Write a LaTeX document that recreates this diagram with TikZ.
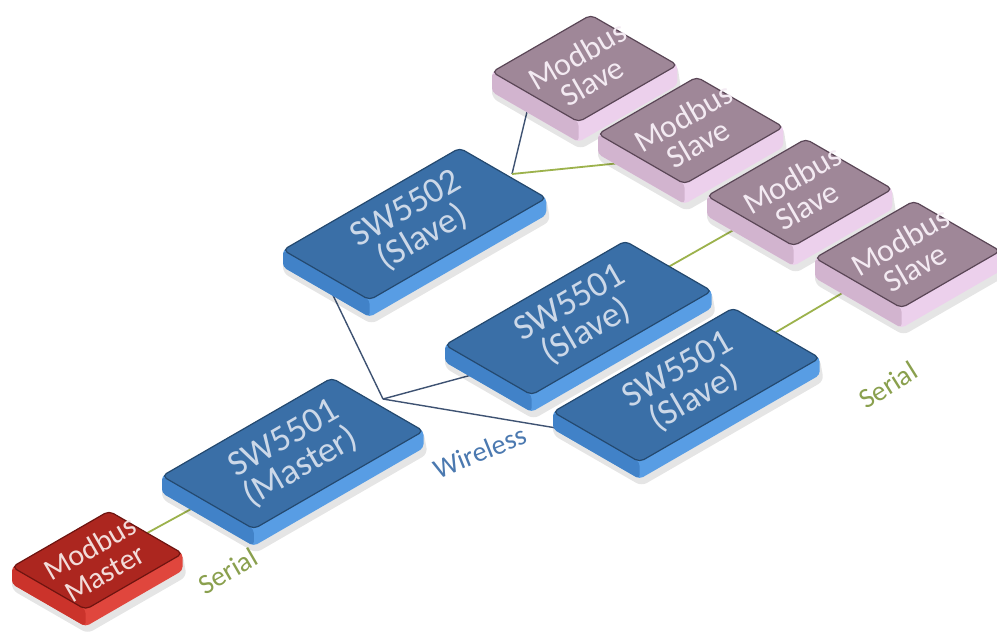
\documentclass[tikz,border=0pt]{standalone}
\usepackage{fontspec}
\setmainfont{Carlito}
\usetikzlibrary{calc,backgrounds}

\definecolor{bluetop}{HTML}{3A6FA7}
\definecolor{blueleft}{HTML}{4182C8}
\definecolor{blueright}{HTML}{589DE4}
\definecolor{blueedge}{HTML}{24496F}
\definecolor{bluetext}{HTML}{CCD8E8}
\definecolor{redtop}{HTML}{AC261F}
\definecolor{redleft}{HTML}{CB332B}
\definecolor{redright}{HTML}{E0463D}
\definecolor{rededge}{HTML}{6E1410}
\definecolor{redtext}{HTML}{F2DCDA}
\definecolor{mauvetop}{HTML}{9F8798}
\definecolor{mauveleft}{HTML}{D2B4CF}
\definecolor{mauveright}{HTML}{ECD0EC}
\definecolor{mauveedge}{HTML}{5A4656}
\definecolor{mauvetext}{HTML}{F3EAF2}
\definecolor{wirecol}{HTML}{3E5272}
\definecolor{serialcol}{HTML}{9CB24C}
\definecolor{seriallabel}{HTML}{8AA04E}
\definecolor{wirelabel}{HTML}{4B79B0}

%% iso box: name, corner x, corner y, long side, short side, depth, colour set, text
\newcommand{\isobox}[8]{%
  \pgfmathsetmacro\boxax{0.866*#4}\pgfmathsetmacro\boxay{-0.5*#4}%
  \pgfmathsetmacro\boxbx{0.866*#5}\pgfmathsetmacro\boxby{0.5*#5}%
  \coordinate (#1-L) at (#2,#3);
  \coordinate (#1-T) at ($(#1-L)+(\boxax,\boxay)$);
  \coordinate (#1-B) at ($(#1-L)+(\boxbx,\boxby)$);
  \coordinate (#1-R) at ($(#1-T)+(\boxbx,\boxby)$);
  %% soft shadow
  \fill[black,opacity=0.10,rounded corners=6] ($(#1-L)+(0,#6+6)$) -- ($(#1-B)+(2,#6+7)$)
    -- ($(#1-R)+(4,#6+6)$) -- (#1-R) -- (#1-L) -- cycle;
  %% sides
  \fill[#7right,rounded corners=4] (#1-L) -- (#1-T) -- (#1-R) -- ($(#1-R)+(0,#6)$)
    -- ($(#1-B)+(0,#6)$) -- ($(#1-L)+(0,#6)$) -- cycle;
  \fill[#7left,rounded corners=4] (#1-L) -- (#1-B) -- ($(#1-B)+(0,#6)$)
    -- ($(#1-L)+(0,#6)$) -- cycle;
  %% top
  \filldraw[fill=#7top,draw=#7edge,line width=1.2pt,rounded corners=5]
    (#1-L) -- (#1-T) -- (#1-R) -- (#1-B) -- cycle;
  \node[boxtext,#7font,text=#7text,rotate=30] (#1) at ($(#1-L)!0.5!(#1-R)$) {#8};
}

\begin{document}
\begin{tikzpicture}[x=1pt,y=-1pt,
  boxtext/.style={align=center,inner sep=0pt},
  bluefont/.style={font=\fontsize{36}{33}\selectfont},
  mauvefont/.style={font=\fontsize{32}{30}\selectfont},
  redfont/.style={font=\fontsize{30}{29}\selectfont},
  wireline/.style={draw=wirecol,line width=1.4pt},
  serialline/.style={draw=serialcol,line width=1.8pt},
  linklabel/.style={font=\fontsize{28}{30}\selectfont}]
\useasboundingbox (0,0) rectangle (997,633);
%% modbus slaves, back to front
\foreach \boxname/\x/\y in {mbs1/492/72, mbs2/598/134, mbs3/707/196, mbs4/815/258} {
  \isobox{\boxname}{\x}{\y}{114}{100}{20}{mauve}{Modbus\\Slave}
}
%% radios
\isobox{sw5502}{283}{250}{204}{100}{17}{blue}{SW5502\\(Slave)}
\isobox{slaveA}{445}{345}{208}{100}{17}{blue}{SW5501\\(Slave)}
\isobox{slaveB}{553}{412}{208}{100}{17}{blue}{SW5501\\(Slave)}
\isobox{master}{162}{476}{196}{106}{17}{blue}{SW5501\\(Master)}
\isobox{mbmaster}{12}{567}{112}{85}{17}{red}{Modbus\\Master}
%% link points
\coordinate (masterhub) at (383,399);
\coordinate (sw5502hub) at (512,174);
\coordinate (w-sw5502) at (317,262);
\coordinate (w-slaveA) at (560,351);
\coordinate (w-slaveB) at (640,442);
\coordinate (w-mbs1) at (539,62);
\coordinate (s-mbs2) at (680,157);
%% labels
\node[linklabel,text=seriallabel,rotate=30] (serialA) at (228,571) {Serial};
\node[linklabel,text=wirelabel,rotate=22] (wireless) at (480,452) {Wireless};
\node[linklabel,text=seriallabel,rotate=32] (serialB) at (888,385) {Serial};
%% links, behind the boxes
\begin{pgfonlayer}{background}
\fill[white] (0,0) rectangle (997,633);
\foreach \endpoint in {w-sw5502, w-slaveA, w-slaveB}
  \path[wireline] (masterhub) -- (\endpoint);
\path[wireline] (sw5502hub) -- (w-mbs1);
\path[serialline] (sw5502hub) -- (s-mbs2);
\foreach \startnode/\endnode in {mbmaster/master, slaveA/mbs3, slaveB/mbs4}
  \path[serialline] (\startnode.center) -- (\endnode.center);
\end{pgfonlayer}
\end{tikzpicture}
\end{document}
